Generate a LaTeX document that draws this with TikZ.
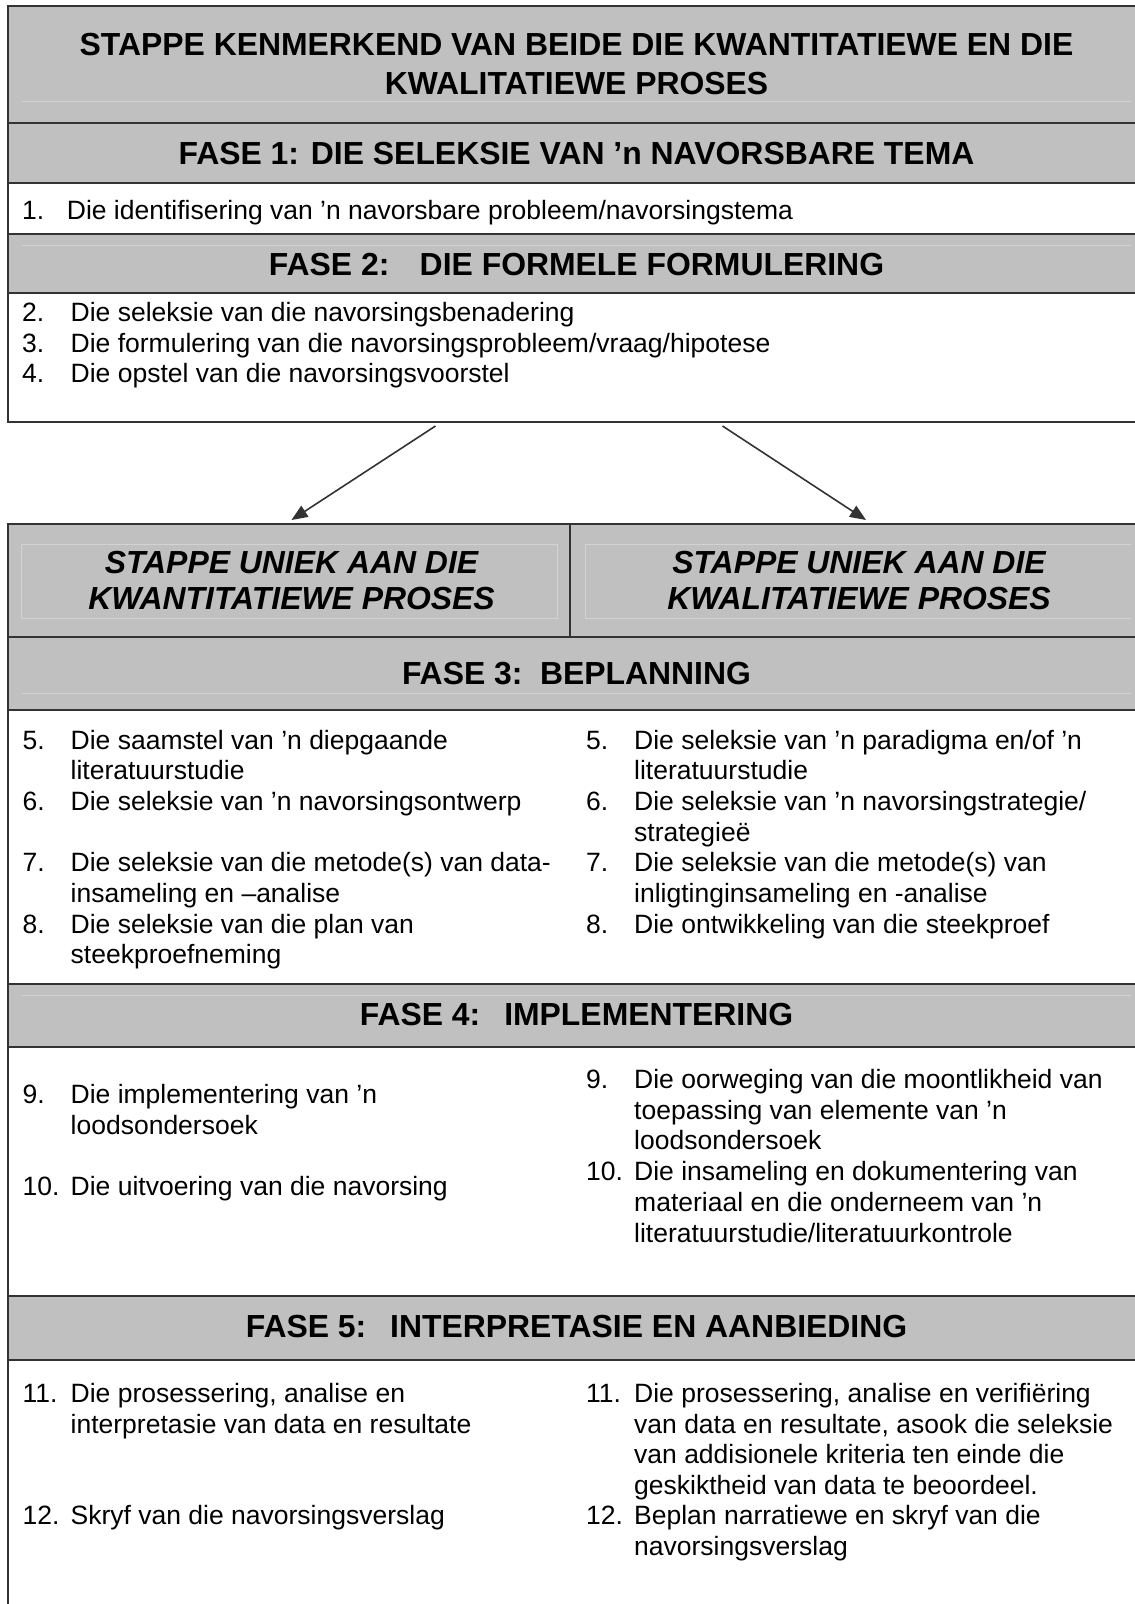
\documentclass[tikz,border=0pt]{standalone}
\usepackage{fontspec}
\setmainfont{Liberation Sans}
\usetikzlibrary{arrows.meta}

\definecolor{rule}{HTML}{333333}
\definecolor{band}{HTML}{C0C0C0}
\definecolor{faint}{HTML}{D3D3D3}

% one node per printed line; #1 name prefix, #2 left x, #3 first baseline, #4 lines
\newcommand\itemlines[4]{%
  \foreach \ln [count=\k from 0] in {#4}
    \node[itemtxt] (#1-\k) at (#2, #3 + \k*30.7) {\ln};%
}

\begin{document}
\begin{tikzpicture}[x=1pt,y=-1pt,
  bandbox/.style={fill=band,draw=rule,line width=2pt},
  plainbox/.style={fill=white,draw=rule,line width=2pt},
  ghost/.style={draw=faint,line width=1pt},
  headtxt/.style={font=\fontsize{31.9}{38}\selectfont\bfseries,anchor=base,inner sep=0pt},
  coltxt/.style={font=\fontsize{31.9}{38}\selectfont\bfseries\itshape,anchor=base,inner sep=0pt},
  numtxt/.style={font=\fontsize{26.5}{30.7}\selectfont,anchor=base west,inner sep=0pt},
  itemtxt/.style={font=\fontsize{26.5}{30.7}\selectfont,anchor=base west,inner sep=0pt},
  flow/.style={draw=rule,line width=1.6pt,-{Triangle[length=16pt,width=13pt]}}
]
\useasboundingbox (0,0) rectangle (1135,1604);
\clip (0,0) rectangle (1135,1604);

% ---------- upper block: shared steps ----------
\path[bandbox]  (7.5,6)   rectangle (1150,123);
\path[bandbox]  (7.5,123) rectangle (1150,183);
\path[plainbox] (7.5,183) rectangle (1150,234);
\path[bandbox]  (7.5,234) rectangle (1150,293);
\path[plainbox] (7.5,293) rectangle (1150,422);
\draw[ghost] (22,101) -- (1131,101);
\draw[ghost] (22,245.5) -- (1131,245.5);

\node[headtxt] (top1) at (576.5,55.5) {STAPPE KENMERKEND VAN BEIDE DIE KWANTITATIEWE EN DIE};
\node[headtxt] (top2) at (576.5,94.5) {KWALITATIEWE PROSES};
\node[headtxt] (fase1) at (576.5,164.5) {FASE 1: DIE SELEKSIE VAN ’n NAVORSBARE TEMA};
\node[numtxt] (n1) at (22,219) {1.};
\node[itemtxt] (s1) at (66.7,219) {Die identifisering van ’n navorsbare probleem/navorsingstema};
\node[headtxt] (fase2) at (576.5,275) {FASE 2:\hspace*{0.95em}DIE FORMELE FORMULERING};
\node[numtxt] (n2) at (22,321.5) {2.};
\node[numtxt] (n3) at (22,352.2) {3.};
\node[numtxt] (n4) at (22,382.9) {4.};
\itemlines{s2}{70.5}{321.5}{{Die seleksie van die navorsingsbenadering},
  {Die formulering van die navorsingsprobleem/vraag/hipotese},
  {Die opstel van die navorsingsvoorstel}}

% ---------- lower block: separate steps ----------
\path[bandbox]  (7.5,524)  rectangle (570,637);
\path[bandbox]  (570,524)  rectangle (1150,637);
\path[bandbox]  (7.5,637)  rectangle (1150,710);
\path[plainbox] (7.5,710)  rectangle (1150,984);
\path[bandbox]  (7.5,984)  rectangle (1150,1047);
\path[plainbox] (7.5,1047) rectangle (1150,1296);
\path[bandbox]  (7.5,1296) rectangle (1150,1360);
\path[plainbox] (7.5,1360) rectangle (1150,1650);
\draw[ghost] (21,544) rectangle (557,618);
\draw[ghost] (1131,544) -- (585,544) -- (585,618) -- (1131,618);
\draw[ghost] (22,693) -- (1131,693);
\draw[ghost] (22,995) -- (1131,995);

\node[coltxt] (kwan1) at (291.5,573.5) {STAPPE UNIEK AAN DIE};
\node[coltxt] (kwan2) at (291.5,609.5) {KWANTITATIEWE PROSES};
\node[coltxt] (kwal1) at (859,573.5) {STAPPE UNIEK AAN DIE};
\node[coltxt] (kwal2) at (859,609.5) {KWALITATIEWE PROSES};

% arrows from the shared block to the two columns
\coordinate (qa) at (435.5,426);
\coordinate (qb) at (291.5,520);
\coordinate (la) at (722.5,426);
\coordinate (lb) at (866,520);
\draw[flow] (qa) -- (qb);
\draw[flow] (la) -- (lb);

% phase 3
\node[headtxt] (fase3) at (576.5,684) {FASE 3:\hspace*{0.55em}BEPLANNING};
\node[numtxt] (q5) at (22.5,749) {5.};
\node[numtxt] (q6) at (22.5,810.4) {6.};
\node[numtxt] (q7) at (22.5,871.8) {7.};
\node[numtxt] (q8) at (22.5,933.2) {8.};
\itemlines{qt5}{70.5}{749}{{Die saamstel van ’n diepgaande},{literatuurstudie}}
\itemlines{qt6}{70.5}{810.4}{{Die seleksie van ’n navorsingsontwerp}}
\itemlines{qt7}{70.5}{871.8}{{Die seleksie van die metode(s) van data-},{insameling en –analise}}
\itemlines{qt8}{70.5}{933.2}{{Die seleksie van die plan van},{steekproefneming}}
\node[numtxt] (l5) at (586,749) {5.};
\node[numtxt] (l6) at (586,810.4) {6.};
\node[numtxt] (l7) at (586,871.8) {7.};
\node[numtxt] (l8) at (586,933.2) {8.};
\itemlines{lt5}{634}{749}{{Die seleksie van ’n paradigma en/of ’n},{literatuurstudie}}
\itemlines{lt6}{634}{810.4}{{Die seleksie van ’n navorsingstrategie/},{strategieë}}
\itemlines{lt7}{634}{871.8}{{Die seleksie van die metode(s) van},{inligtinginsameling en -analise}}
\itemlines{lt8}{634}{933.2}{{Die ontwikkeling van die steekproef}}

% phase 4
\node[headtxt] (fase4) at (576.5,1025.5) {FASE 4:\hspace*{0.75em}IMPLEMENTERING};
\node[numtxt] (q9) at (22.5,1103.5) {9.};
\node[numtxt] (q10) at (22.5,1195.5) {10.};
\itemlines{qt9}{70.5}{1103.5}{{Die implementering van ’n},{loodsondersoek}}
\itemlines{qt10}{70.5}{1195.5}{{Die uitvoering van die navorsing}}
\node[numtxt] (l9) at (586,1088.5) {9.};
\node[numtxt] (l10) at (586,1180.6) {10.};
\itemlines{lt9}{634}{1088.5}{{Die oorweging van die moontlikheid van},{toepassing van elemente van ’n},{loodsondersoek}}
\itemlines{lt10}{634}{1180.6}{{Die insameling en dokumentering van},{materiaal en die onderneem van ’n},{literatuurstudie/literatuurkontrole}}

% phase 5
\node[headtxt] (fase5) at (576.5,1337.5) {FASE 5:\hspace*{0.75em}INTERPRETASIE EN AANBIEDING};
\node[numtxt] (q11) at (22.5,1402.5) {11.};
\node[numtxt] (q12) at (22.5,1524.5) {12.};
\itemlines{qt11}{70.5}{1402.5}{{Die prosessering, analise en},{interpretasie van data en resultate}}
\itemlines{qt12}{70.5}{1524.5}{{Skryf van die navorsingsverslag}}
\node[numtxt] (l11) at (586,1402.5) {11.};
\node[numtxt] (l12) at (586,1524.5) {12.};
\itemlines{lt11}{634}{1402.5}{{Die prosessering, analise en verifiëring},{van data en resultate, asook die seleksie},{van addisionele kriteria ten einde die},{geskiktheid van data te beoordeel.}}
\itemlines{lt12}{634}{1524.5}{{Beplan narratiewe en skryf van die},{navorsingsverslag}}
\end{tikzpicture}
\end{document}
